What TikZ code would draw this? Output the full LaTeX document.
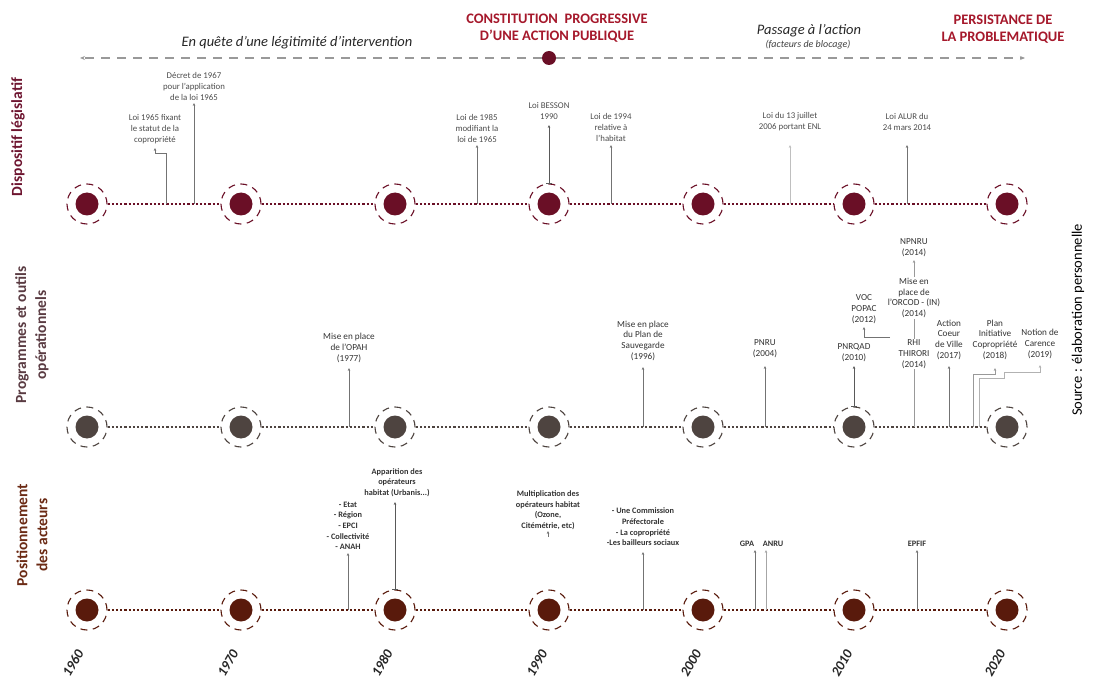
\documentclass[tikz,border=0pt]{standalone}
\usepackage{fontspec}
\setmainfont{Carlito}
\usetikzlibrary{arrows.meta}
\definecolor{rowA}{HTML}{6A0F26}
\definecolor{rowB}{HTML}{4E4440}
\definecolor{rowC}{HTML}{591A0C}
\definecolor{hdr}{HTML}{A5182B}
\definecolor{lblA}{HTML}{6E1530}
\definecolor{lblB}{HTML}{5A3B42}
\definecolor{lblC}{HTML}{6B2A14}
\tikzset{
  ring/.style={circle, draw=#1, dash pattern=on 7pt off 5.5pt, line width=1.1pt, minimum size=40pt, inner sep=0pt},
  core/.style={circle, fill=#1, minimum size=23pt, inner sep=0pt},
  tline/.style={draw=#1, line width=2.2pt, dash pattern=on 2.2pt off 2pt},
  labA/.style={font=\fontsize{8.8}{11}\selectfont, align=center, text=black!70, inner sep=1pt, anchor=south},
  labB/.style={font=\fontsize{9.2}{10.8}\selectfont, align=center, text=black!80, inner sep=1pt, anchor=south},
  labC/.style={font=\fontsize{8.3}{10.7}\selectfont\bfseries, align=center, text=black!80, inner sep=1pt, anchor=south},
  conn/.style={draw=black!55, line width=0.7pt, -{Stealth[length=3pt,width=2.6pt]}},
  barconn/.style={draw=black!65, line width=0.9pt, {Bar[width=6pt]}-{Stealth[length=3pt,width=2.6pt]}},
  side/.style={rotate=90, font=\fontsize{15.5}{20}\selectfont\bfseries, align=center},
  year/.style={rotate=60, font=\fontsize{14}{14}\selectfont\bfseries\itshape, text=black!85},
  hdrtxt/.style={font=\fontsize{14.5}{17}\selectfont\bfseries, text=hdr, align=center},
  toparrow/.style={draw=black!40, line width=1.3pt, dash pattern=on 9pt off 7pt, -{Stealth[length=5pt,width=4pt]}},
}
\begin{document}
\begin{tikzpicture}[x=1pt,y=-1pt]
\useasboundingbox (0,0) rectangle (1096,682);
% header
\node[hdrtxt] (h1) at (557,28.5) {CONSTITUTION\ \ PROGRESSIVE\\D’UNE ACTION PUBLIQUE};
\node[hdrtxt] (h2) at (1003,29) {PERSISTANCE DE\\LA PROBLEMATIQUE};
\node[font=\fontsize{14.5}{16}\selectfont\itshape, text=black!85] (quest) at (297,43) {En quête d’une légitimité d’intervention};
\node[font=\fontsize{14.5}{16}\selectfont\itshape, text=black!85] (pass) at (809,31) {Passage à l’action};
\node[font=\fontsize{10}{11}\selectfont\itshape, text=black!75] (fact) at (808,45) {(facteurs de blocage)};
\coordinate (tl) at (80,58);
\coordinate (tr) at (1025,58);
\node[circle, fill=rowA, minimum size=14pt, inner sep=0pt] (mid) at (549,58) {};
\draw[toparrow] (mid) -- (tl);
\draw[toparrow] (mid) -- (tr);
% side labels
\node[side, text=lblA] (sA) at (18,137) {Dispositif législatif};
\node[side, text=lblB] (sB) at (32,335) {Programmes et outils\\opérationnels};
\node[side, text=lblC] (sC) at (32,535) {Positionnement\\des acteurs};
\node[rotate=90, font=\fontsize{14.5}{16}\selectfont] (src) at (1078,320) {Source : élaboration personnelle};
% timelines
\foreach \x [count=\i from 0] in {87,241,395,549,703,854,1007} {
  \node[ring=rowA] (A\i) at (\x,204) {};
  \node[core=rowA] (Ac\i) at (\x,204) {};
  \node[ring=rowB] (B\i) at (\x,427) {};
  \node[core=rowB] (Bc\i) at (\x,427) {};
  \node[ring=rowC] (C\i) at (\x,610) {};
  \node[core=rowC] (Cc\i) at (\x,610) {};
}
\foreach \i/\j in {0/1,1/2,2/3,3/4,4/5,5/6} {
  \draw[tline=rowA] (A\i) -- (A\j);
  \draw[tline=rowB] (B\i) -- (B\j);
  \draw[tline=rowC] (C\i) -- (C\j);
}
% years
\foreach \x/\y [count=\i from 0] in {73/1960,228/1970,382/1980,537/1990,691/2000,842/2010,995/2020} {
  \node[year] (Y\i) at (\x,663) {\y};
}
% row 1
\node[labA] (l65) at (155,145) {Loi 1965 fixant\\le statut de la\\copropriété};
\coordinate (t65) at (166,204);
\draw[conn, shorten >=3pt] (t65) |- (155,153) -- (l65.south);
\node[labA] (d67) at (194,102) {Décret de 1967\\pour l'application\\de la loi 1965};
\coordinate (t67) at (194,204);
\draw[conn, shorten >=1pt] (t67) -- (d67.south);
\node[labA] (l85) at (477,144) {Loi de 1985\\modifiant la\\loi de 1965};
\coordinate (t85) at (477,204);
\draw[conn, shorten >=1pt] (t85) -- (l85.south);
\node[labA] (bes) at (549,121) {Loi BESSON\\1990};
\draw[barconn, shorten >=4pt] (A3.north) -- (bes.south);
\node[labA] (l94) at (611,143) {Loi de 1994\\relative à\\l'habitat};
\coordinate (t94) at (611,204);
\draw[conn, shorten >=2pt] (t94) -- (l94.south);
\node[labA] (enl) at (790,132) {Loi du 13 juillet\\2006 portant ENL};
\coordinate (t06) at (790,204);
\draw[conn, draw=black!25, shorten >=13pt] (t06) -- (enl.south);
\node[labA] (alur) at (907,132) {Loi ALUR du\\24 mars 2014};
\coordinate (t14) at (907,204);
\draw[conn, shorten >=13pt] (t14) -- (alur.south);
% row 2
\node[labB] (opah) at (349,364) {Mise en place\\de l'OPAH\\(1977)};
\coordinate (t77) at (349,427);
\draw[conn, shorten >=4pt] (t77) -- (opah.south);
\node[labB] (psv) at (643,362) {Mise en place\\du Plan de\\Sauvegarde\\(1996)};
\coordinate (t96) at (643,427);
\draw[conn, shorten >=5pt] (t96) -- (psv.south);
\node[labB] (pnru) at (765,359) {PNRU\\(2004)};
\coordinate (t04) at (765,427);
\draw[conn, shorten >=7pt] (t04) -- (pnru.south);
\node[labB] (pnrqad) at (854,363) {PNRQAD\\(2010)};
\draw[barconn, shorten >=3pt] (B5.north) -- (pnrqad.south);
\node[labB] (voc) at (864,325) {VOC\\POPAC\\(2012)};
\coordinate (vocend) at (890,337);
\draw[conn, shorten >=2pt] (vocend) -| (voc.south);
\node[labB] (npnru) at (914,258) {NPNRU\\(2014)};
\coordinate (t14b) at (914,427);
\draw[conn, draw=black!40, shorten >=2pt] (t14b) -- (npnru.south);
\node[labB, anchor=center, fill=white] (orcod) at (914,298) {Mise en\\place de\\l'ORCOD - (IN)\\(2014)};
\node[labB, anchor=center, fill=white] (rhi) at (914,354) {RHI\\THIRORI\\(2014)};
\node[labB] (acv) at (949,361) {Action\\Coeur\\de Ville\\(2017)};
\coordinate (t17) at (949,427);
\draw[conn, shorten >=5pt] (t17) -- (acv.south);
\node[labB] (pic) at (995,361) {Plan\\Initiative\\Copropriété\\(2018)};
\coordinate (t18) at (973,427);
\draw[conn, draw=black!40, shorten >=7pt] (t18) |- (995,374) -- (pic.south);
\node[labB] (car) at (1040,360) {Notion de\\Carence\\(2019)};
\coordinate (t19) at (979,427);
\draw[conn, draw=black!30, shorten >=5pt] (t19) |- (1004,378) |- (1040,372) -- (car.south);
% row 3
\node[labC] (act) at (348,551) {- Etat\\- Région\\- EPCI\\- Collectivité\\- ANAH};
\coordinate (tact) at (348,610);
\draw[conn, shorten >=2pt] (tact) -- (act.south);
\node[labC] (app) at (397,498) {Apparition des\\opérateurs\\habitat (Urbanis...)};
\draw[barconn, shorten >=4pt] (C2.north) -- (C2.north |- app.south);
\node[labC] (mult) at (548,531) {Multiplication des\\opérateurs habitat\\(Ozone,\\Citémétrie, etc)};
\coordinate (tmult) at (548,537);
\draw[conn, line width=0.5pt] (tmult) -- (mult.south);
\node[labC] (com) at (643,547) {- Une Commission\\Préfectorale\\- La copropriété\\-Les bailleurs sociaux};
\coordinate (tcom) at (643,610);
\draw[conn, shorten >=5pt] (tcom) -- (com.south);
\node[labC] (gpa) at (747,548) {GPA};
\coordinate (tgpa) at (755,610);
\draw[conn, shorten >=2pt] (tgpa) -- (tgpa |- gpa.south);
\node[labC] (anru) at (773,548) {ANRU};
\coordinate (tanru) at (766,610);
\draw[conn, draw=black!35, shorten >=2pt] (tanru) -- (tanru |- anru.south);
\node[labC] (epfif) at (917,548) {EPFIF};
\coordinate (tepf) at (917,610);
\draw[conn, shorten >=2pt] (tepf) -- (epfif.south);
\end{tikzpicture}
\end{document}
